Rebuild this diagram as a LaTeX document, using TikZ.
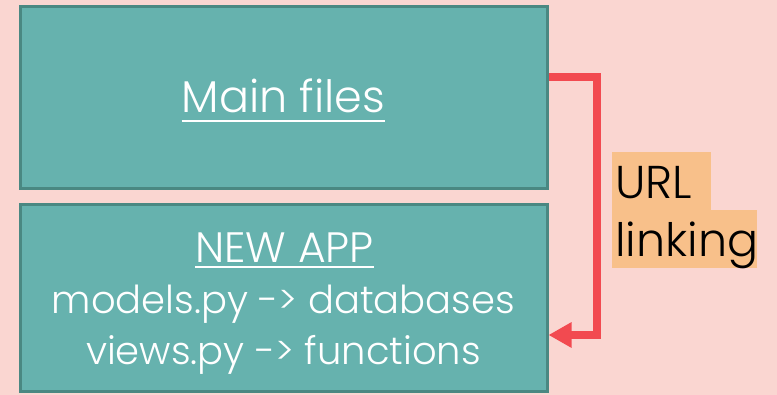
\documentclass[tikz,border=0pt]{standalone}
\usepackage{fontspec}
\setmainfont{Poppins}[UprightFont=* Light]
\usetikzlibrary{arrows.meta}
\definecolor{bgpink}{RGB}{250,214,209}
\definecolor{tealfill}{RGB}{102,178,174}
\definecolor{tealedge}{RGB}{74,136,130}
\definecolor{linkred}{RGB}{242,74,80}
\definecolor{hlorange}{RGB}{248,192,138}
\tikzset{
  box/.style={draw=tealedge, fill=tealfill, line width=3pt, inner sep=0pt,
              minimum width=527pt},
  boxtext/.style={text=white, inner sep=0pt, anchor=base},
  uline/.style={draw=white, line width=2pt},
  conn/.style={draw=linkred, line width=8pt, line join=miter,
               -{Triangle[length=23pt,width=24pt]}},
  hl/.style={fill=hlorange, inner sep=0pt, anchor=north west},
  lbl/.style={text=black, inner sep=0pt, anchor=base west, font=\fontsize{46}{50}\selectfont}
}
\begin{document}
\begin{tikzpicture}[x=1pt,y=-1pt]
  \useasboundingbox (0,0) rectangle (777,395);
  \fill[bgpink] (0,0) rectangle (777,395);

  % the two boxes
  \node[box, minimum height=182pt] (main) at (283.5,98) {};
  \node[box, minimum height=187pt] (app) at (283.5,298.5) {};

  % top box text
  \node[boxtext, font=\fontsize{44.5}{48}\selectfont] (mainlbl) at (283.5,113) {Main files};
  \draw[uline] ([yshift=-8pt]mainlbl.base west) -- ([yshift=-8pt]mainlbl.base east);

  % bottom box text
  \node[boxtext, font=\fontsize{42.5}{46}\selectfont] (apptitle) at (284.5,263) {NEW APP};
  \draw[uline] ([yshift=-4.5pt]apptitle.base west) -- ([yshift=-4.5pt]apptitle.base east);
  \node[boxtext, font=\fontsize{38.5}{42}\selectfont] (models) at (283.5,314) {models.py -> databases};
  \node[boxtext, font=\fontsize{38.5}{42}\selectfont] (views) at (283.5,365) {views.py -> functions};

  % link between the boxes
  \draw[conn] ([yshift=21pt]main.east) -- ++(48,0) |- ([yshift=-36.5pt]app.east);

  % highlighted label
  \node[hl, minimum width=99pt, minimum height=58pt] (hlurl) at (612,152) {};
  \node[hl, minimum width=145pt, minimum height=58pt] (hllink) at (612,210) {};
  \node[lbl] (urltext) at (615,199) {URL};
  \node[lbl] (linktext) at (615,257) {linking};
\end{tikzpicture}
\end{document}
